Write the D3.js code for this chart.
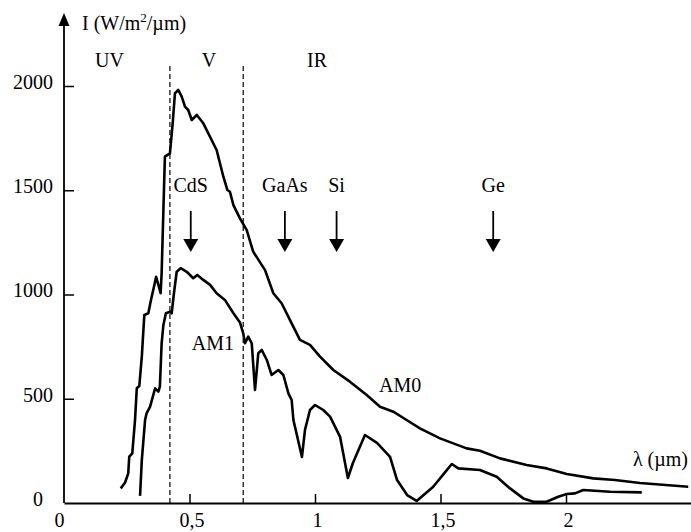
<!DOCTYPE html>
<html><head><meta charset="utf-8">
<script src="https://cdn.jsdelivr.net/npm/d3@7/dist/d3.min.js"></script>
<style>
body{margin:0;background:#fff}
svg{display:block}
svg text{font-family:'Liberation Serif','DejaVu Serif','Times New Roman',Times,serif !important;fill:#000;font-size:20px}
</style>
</head><body>
<svg id="chart" width="691" height="532"></svg>
<script>
// Spectral irradiance, wavelength (µm) vs I (W/m²/µm)
const am0 = [
[0.226,70],[0.243,97],[0.256,142],[0.260,222],[0.272,238],[0.283,398],[0.290,550],[0.300,561],
[0.310,702],[0.320,902],[0.336,910],[0.345,965],[0.360,1046],[0.367,1085],[0.376,1046],[0.385,1006],
[0.389,1103],[0.396,1405],[0.402,1661],[0.422,1677],[0.433,1821],[0.442,1965],[0.455,1981],[0.469,1949],
[0.482,1901],[0.495,1885],[0.509,1837],[0.529,1861],[0.555,1821],[0.608,1693],[0.635,1565],[0.651,1501],
[0.661,1493],[0.675,1429],[0.701,1365],[0.728,1309],[0.754,1205],[0.801,1117],[0.834,1006],[0.867,958],
[0.900,878],[0.940,782],[0.980,758],[1.020,702],[1.073,638],[1.139,582],[1.206,518],[1.259,462],
[1.312,438],[1.365,398],[1.418,358],[1.498,310],[1.604,262],[1.657,251],[1.737,214],[1.843,182],
[1.923,166],[2.003,139],[2.109,118],[2.195,110],[2.295,96],[2.487,78]
];
const am1 = [
[0.303,34],[0.310,206],[0.323,398],[0.329,430],[0.343,462],[0.363,550],[0.376,534],[0.382,558],
[0.389,766],[0.396,854],[0.406,910],[0.422,917],[0.429,910],[0.438,1006],[0.449,1109],[0.465,1126],
[0.489,1109],[0.515,1078],[0.531,1094],[0.555,1070],[0.582,1046],[0.608,1006],[0.641,974],[0.675,910],
[0.701,866],[0.714,814],[0.721,766],[0.734,798],[0.748,766],[0.761,542],[0.774,718],[0.788,734],
[0.808,686],[0.827,614],[0.854,638],[0.874,614],[0.894,526],[0.907,494],[0.914,398],[0.948,221],
[0.960,350],[0.980,446],[1.000,470],[1.033,446],[1.060,414],[1.100,317],[1.131,120],[1.151,192],
[1.199,326],[1.247,288],[1.299,221],[1.327,110],[1.367,38],[1.405,10],[1.471,78],[1.525,158],
[1.545,187],[1.571,166],[1.657,158],[1.724,126],[1.777,70],[1.830,22],[1.870,6],[1.923,6],
[1.969,30],[2.003,43],[2.036,46],[2.069,62],[2.175,54],[2.302,51]
];
const xTicks = [0, 0.5, 1, 1.5, 2];
const xTickLabels = ["0", "0,5", "1", "1,5", "2"];
const yTicks = [0, 500, 1000, 1500, 2000];
const yTickLabels = ["0", "500", "1000", "1500", "2000"];
const regionBounds = [0.422, 0.714];
const regionLabels = [["UV",0.181],["V",0.578],["IR",1.008]];
const bandGaps = [["CdS",0.505],["GaAs",0.88],["Si",1.086],["Ge",1.71]];
const curveLabels = [["AM0",1.339,566],["AM1",0.593,769]];

const FONT = "'Liberation Serif','DejaVu Serif',serif";
const svg = d3.select("#chart");
const x = d3.scaleLinear().domain([0, 2.5]).range([64, 691.5]);
const y = d3.scaleLinear().domain([0, 2000]).range([503, 86]);

// dashed region boundaries
svg.selectAll(".bound").data(regionBounds).join("line")
  .attr("x1", d=>x(d)).attr("x2", d=>x(d))
  .attr("y1", y(0)).attr("y2", y(2100))
  .attr("stroke","#000").attr("stroke-width",1.2).attr("stroke-dasharray","5,3");

// x axis
const xAxis = d3.axisBottom(x).tickValues(xTicks)
  .tickFormat((d,i)=>xTickLabels[i]).tickSizeInner(-9).tickSizeOuter(0).tickPadding(10);
const gx = svg.append("g").attr("transform",`translate(0,${y(0)})`).call(xAxis);
gx.attr("font-family",FONT).attr("font-size",20);
gx.select(".domain").attr("stroke-width",2);
gx.selectAll(".tick line").attr("stroke-width",1.5);
gx.selectAll(".tick text").attr("dx",(d)=>d===0?-5:2);
gx.selectAll(".tick").filter(d=>d===0).select("line").remove();

// y axis
const yAxis = d3.axisLeft(y).tickValues(yTicks).tickFormat((d,i)=>yTickLabels[i])
  .tickSizeInner(-10).tickSizeOuter(0).tickPadding(11);
const gy = svg.append("g").attr("transform",`translate(${x(0)},0)`).call(yAxis);
gy.attr("font-family",FONT).attr("font-size",20);
gy.select(".domain").remove();
gy.selectAll(".tick line").attr("stroke-width",1.5);
gy.selectAll(".tick").filter(d=>d===0).select("line").remove();
gy.selectAll(".tick text").attr("dy","0.12em").attr("dx",d=>d===0?-10:0);
svg.append("line").attr("x1",x(0)).attr("x2",x(0)).attr("y1",y(0)).attr("y2",22)
  .attr("stroke","#000").attr("stroke-width",1.8);
svg.append("path").attr("d",`M${x(0)},13 L${x(0)-5.5},26 L${x(0)+5.5},26 Z`).attr("fill","#000");

svg.append("text").attr("x",82).attr("y",29.5)
  .html('I (W/m<tspan dy="-8" style="font-size:13px">2</tspan><tspan dy="8">/µm)</tspan>');
svg.append("text").attr("x",688).attr("y",466).attr("text-anchor","end").text("λ (µm)");

// curves
const line = d3.line().x(d=>x(d[0])).y(d=>y(d[1]));
[am0, am1].forEach(s=>{
  svg.append("path").datum(s).attr("d",line).attr("fill","none")
    .attr("stroke","#000").attr("stroke-width",2.6).attr("stroke-linejoin","round");
});

// region labels
svg.selectAll(".reg").data(regionLabels).join("text")
  .attr("x",d=>x(d[1])).attr("y",66.5).attr("text-anchor","middle").text(d=>d[0]);

// band gap arrows
const bg = svg.selectAll(".bg").data(bandGaps).join("g");
bg.append("text").attr("x",d=>x(d[1])).attr("y",192).attr("text-anchor","middle").text(d=>d[0]);
bg.append("line").attr("x1",d=>x(d[1])).attr("x2",d=>x(d[1])).attr("y1",211).attr("y2",242)
  .attr("stroke","#000").attr("stroke-width",1.8);
bg.append("path").attr("d",d=>`M${x(d[1])},252 L${x(d[1])-7.5},239 L${x(d[1])+7.5},239 Z`).attr("fill","#000");

// curve labels
svg.selectAll(".cl").data(curveLabels).join("text")
  .attr("x",d=>x(d[1])).attr("y",d=>y(d[2])).attr("dy","0.35em")
  .attr("text-anchor","middle").text(d=>d[0]);

svg.selectAll("text").attr("font-family",FONT);
</script>
</body></html>
